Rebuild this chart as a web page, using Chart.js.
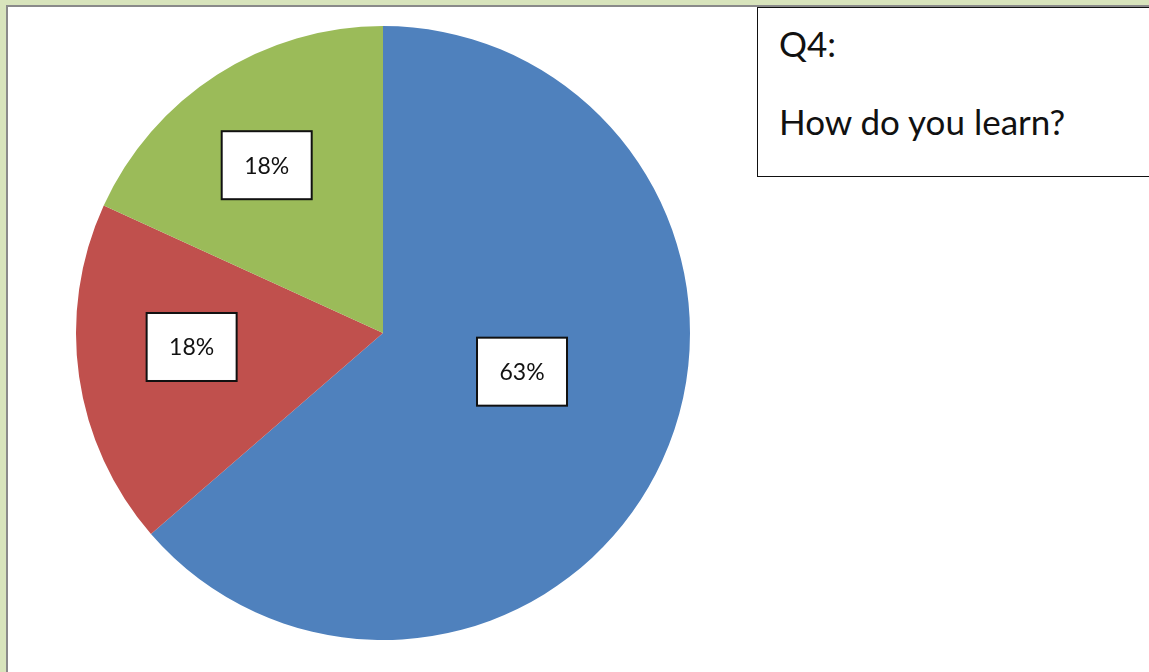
<!DOCTYPE html>
<html>
<head>
<meta charset="utf-8">
<script src="https://cdn.jsdelivr.net/npm/chart.js@4.4.0/dist/chart.umd.min.js"></script>
<style>
  html, body { margin: 0; padding: 0; }
  body { width: 1149px; height: 672px; overflow: hidden; background: #d8e4bc; position: relative; font-family: Lato, "Open Sans", sans-serif; }
  #sheet { position: absolute; left: 6px; top: 5px; right: 0; bottom: 0; background: #fff; border-left: 2px solid #8a8a8a; border-top: 2px solid #8a8a8a; }
  #wrap { position: absolute; left: 0; top: 0; width: 1149px; height: 672px; }
  #qbox { position: absolute; left: 757px; top: 7px; width: 400px; height: 168px; border: 1.5px solid #111; background: #fff; color: #111; }
  #qbox .q { position: absolute; left: 21px; top: 15px; font-size: 35px; line-height: 40px; }
  #qbox .t { position: absolute; left: 21px; top: 93px; font-size: 35px; line-height: 40px; }
</style>
</head>
<body>
<div id="sheet"></div>
<div id="wrap"><canvas id="mycanvas"></canvas></div>
<div id="qbox"><div class="q">Q4:</div><div class="t">How do you learn?</div></div>
<script>
var categories = ['Answer 1', 'Answer 2', 'Answer 3'];
var values = [63, 18, 18];
var labelText = ['63%', '18%', '18%'];
var colors = ['#4f81bd', '#c0504d', '#9bbb59'];

// boxed data labels, placed roughly where Excel's best fit put them
var boxLabels = {
	id: 'boxLabels',
	afterDatasetsDraw: function(chart, args, opts){
		var ctx = chart.ctx;
		var meta = chart.getDatasetMeta(0);
		ctx.save();
		ctx.font = '23px Lato, "Open Sans", sans-serif';
		ctx.textAlign = 'center';
		ctx.textBaseline = 'middle';
		meta.data.forEach(function(arc, i){
			var p = arc.getProps(['x', 'y', 'startAngle', 'endAngle', 'outerRadius'], true);
			var a = (p.startAngle + p.endAngle) / 2 + opts.shift[i] * Math.PI / 180;
			var r = p.outerRadius * opts.dist[i];
			var cx = p.x + r * Math.cos(a);
			var cy = p.y + r * Math.sin(a);
			var w = 90, h = 68;
			ctx.fillStyle = '#fff';
			ctx.fillRect(cx - w / 2, cy - h / 2, w, h);
			ctx.strokeStyle = '#111';
			ctx.lineWidth = 2;
			ctx.strokeRect(cx - w / 2, cy - h / 2, w, h);
			ctx.fillStyle = '#111';
			ctx.fillText(labelText[i], cx, cy + 1);
		});
		ctx.restore();
	}
};

var ctx = document.getElementById('mycanvas');
var chart = new Chart(ctx, {
	type: 'pie',
	data: {
		labels: categories,
		datasets: [{
			data: values,
			backgroundColor: colors,
			borderWidth: 0
		}]
	},
	options: {
		responsive: true,
		maintainAspectRatio: false,
		animation: false,
		layout: { padding: { left: 76, top: 26, right: 459, bottom: 32 } },
		plugins: {
			legend: { display: false },
			tooltip: { enabled: false },
			boxLabels: { shift: [-9, 4, -2], dist: [0.47, 0.625, 0.665] }
		}
	},
	plugins: [boxLabels]
});
</script>
</body>
</html>
